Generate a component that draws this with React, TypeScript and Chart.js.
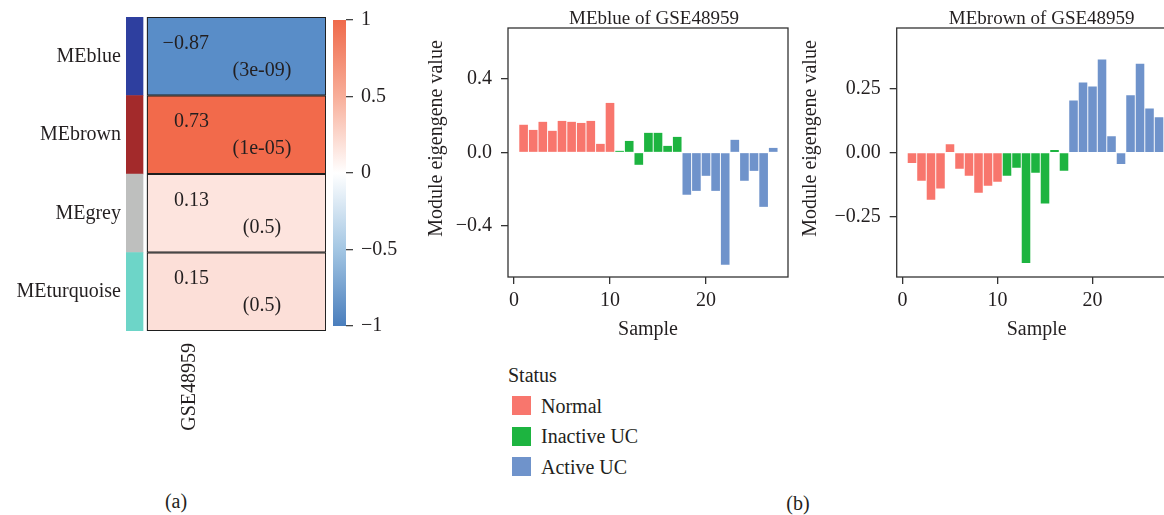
import React, { useEffect, useRef } from 'react';
import { Chart, registerables } from 'chart.js';

Chart.register(...registerables);

// ---------- data ----------
const modules = ['MEblue', 'MEbrown', 'MEgrey', 'MEturquoise'];
const moduleColors = ['#2E3F9F', '#A32A2B', '#BEBFBE', '#6DD5C8'];
const correlations = [-0.87, 0.73, 0.13, 0.15];
const correlationLabels = ['\u22120.87', '0.73', '0.13', '0.15'];
const pValueLabels = ['(3e-09)', '(1e-05)', '(0.5)', '(0.5)'];
const studyLabel = 'GSE48959';

const colorbarTicks = [-1, -0.5, 0, 0.5, 1];
const colorbarTickLabels = ['\u22121', '\u22120.5', '0', '0.5', '1'];

const samples = [1, 2, 3, 4, 5, 6, 7, 8, 9, 10, 11, 12, 13, 14, 15, 16, 17, 18, 19, 20, 21, 22, 23, 24, 25, 26, 27];
const sampleStatus = [
  'Normal', 'Normal', 'Normal', 'Normal', 'Normal', 'Normal', 'Normal', 'Normal', 'Normal', 'Normal',
  'Inactive UC', 'Inactive UC', 'Inactive UC', 'Inactive UC', 'Inactive UC', 'Inactive UC', 'Inactive UC',
  'Active UC', 'Active UC', 'Active UC', 'Active UC', 'Active UC', 'Active UC', 'Active UC', 'Active UC', 'Active UC', 'Active UC',
];
const statusNames = ['Normal', 'Inactive UC', 'Active UC'];
const statusColors = ['#F8766D', '#1DB440', '#6F93CB'];

const meBlue = [0.151, 0.123, 0.167, 0.118, 0.172, 0.167, 0.161, 0.172, 0.047, 0.270,
  0.009, 0.063, -0.067, 0.107, 0.107, 0.036, 0.085,
  -0.230, -0.209, -0.127, -0.209, -0.611, 0.069, -0.154, -0.100, -0.296, 0.025];
const meBrown = [-0.040, -0.109, -0.183, -0.140, 0.033, -0.063, -0.090, -0.156, -0.129, -0.113,
  -0.090, -0.059, -0.430, -0.078, -0.198, 0.010, -0.071,
  0.203, 0.273, 0.257, 0.362, 0.064, -0.044, 0.223, 0.346, 0.172, 0.138];

const sampleTicks = [0, 10, 20];
const sampleTickLabels = ['0', '10', '20'];
const blueTicks = [-0.4, 0, 0.4];
const blueTickLabels = ['\u22120.4', '0.0', '0.4'];
const brownTicks = [-0.25, 0, 0.25];
const brownTickLabels = ['\u22120.25', '0.00', '0.25'];

// ---------- style ----------
const FONT = "'Liberation Serif', 'Times New Roman', serif";
const INK = '#231F20';
const AXIS = '#333333';

function hexToRgb(h: string) {
  const n = parseInt(h.slice(1), 16);
  return [(n >> 16) & 255, (n >> 8) & 255, n & 255];
}
const heatStops: [number, string][] = [[-1, '#407CC0'], [0, '#FFFFFF'], [0.7, '#F26B4B'], [1, '#EF6548']];
function heatColor(v: number) {
  for (let i = 0; i < heatStops.length - 1; i++) {
    const [a, ca] = heatStops[i];
    const [b, cb] = heatStops[i + 1];
    if (v >= a && v <= b) {
      const t = (v - a) / (b - a);
      const A = hexToRgb(ca), B = hexToRgb(cb);
      const c = A.map((x, k) => Math.round(x + (B[k] - x) * t));
      return `rgb(${c[0]},${c[1]},${c[2]})`;
    }
  }
  return '#ffffff';
}

const SIDE_START = -0.117;
const SIDE_END = -0.022;

function heatConfig(): any {
  const cellText = {
    id: 'cellText',
    afterDatasetsDraw(chart: any) {
      const { ctx, scales } = chart;
      const x = scales.x, y = scales.y;
      ctx.save();
      ctx.fillStyle = INK;
      ctx.font = `20px ${FONT}`;
      ctx.textBaseline = 'middle';
      correlations.forEach((_, i) => {
        const yc = y.getPixelForValue(i);
        ctx.textAlign = 'right';
        ctx.fillText(correlationLabels[i], x.getPixelForValue(0.346), yc - 13);
        ctx.textAlign = 'center';
        ctx.fillText(pValueLabels[i], x.getPixelForValue(0.642), yc + 14);
      });
      ctx.translate(x.getPixelForValue(0.24), chart.chartArea.bottom + 12);
      ctx.rotate(-Math.PI / 2);
      ctx.textAlign = 'right';
      ctx.fillText(studyLabel, 0, 0);
      ctx.restore();
    },
  };
  return {
    type: 'bar',
    data: {
      labels: modules,
      datasets: [
        {
          data: modules.map(() => [SIDE_START, SIDE_END]),
          backgroundColor: moduleColors,
          borderWidth: 0,
          grouped: false,
          barPercentage: 1,
          categoryPercentage: 1,
        },
        {
          data: modules.map(() => [0, 1]),
          backgroundColor: correlations.map(heatColor),
          borderColor: '#1E1E1E',
          borderWidth: 1.3,
          borderSkipped: false,
          grouped: false,
          barPercentage: 1,
          categoryPercentage: 1,
        },
      ],
    },
    options: {
      indexAxis: 'y',
      responsive: false,
      animation: false,
      layout: { padding: { top: 15, right: 4, left: 0, bottom: 109 } },
      plugins: { legend: { display: false }, tooltip: { enabled: false }, title: { display: false } },
      scales: {
        x: { type: 'linear', min: SIDE_START, max: 1, display: false },
        y: {
          type: 'category',
          grid: { display: false, drawTicks: false },
          border: { display: false },
          ticks: { color: INK, font: { family: FONT, size: 20 }, padding: 5 },
          afterFit: (s: any) => { s.width = 126; },
        },
      },
    },
    plugins: [cellText],
  };
}

function colorbarConfig(): any {
  return {
    type: 'bar',
    data: {
      labels: [''],
      datasets: [
        {
          data: [[-1, 1]],
          backgroundColor: (c: any) => {
            const a = c.chart.chartArea;
            if (!a) return '#ffffff';
            const g = c.chart.ctx.createLinearGradient(0, a.bottom, 0, a.top);
            g.addColorStop(0, '#4A7EBD');
            g.addColorStop(0.25, '#A3C6E3');
            g.addColorStop(0.5, '#FFFFFF');
            g.addColorStop(0.75, '#F8AE99');
            g.addColorStop(1, '#EF6A4B');
            return g;
          },
          borderWidth: 0,
          barPercentage: 1,
          categoryPercentage: 1,
        },
      ],
    },
    options: {
      responsive: false,
      animation: false,
      layout: { padding: { left: 3, top: 15, bottom: 15, right: 0 } },
      plugins: { legend: { display: false }, tooltip: { enabled: false } },
      scales: {
        x: { display: false },
        y: {
          position: 'right',
          min: -1,
          max: 1,
          afterBuildTicks: (s: any) => { s.ticks = colorbarTicks.map((v) => ({ value: v })); },
          grid: { drawOnChartArea: false, tickLength: 7, color: '#444', lineWidth: 1.3 },
          border: { display: false },
          ticks: {
            color: INK,
            font: { family: FONT, size: 20 },
            padding: 8,
            callback: (v: number) => colorbarTickLabels[colorbarTicks.indexOf(v)] ?? '',
          },
          afterFit: (s: any) => { s.width = 74; },
        },
      },
    },
  };
}

function barConfig(opts: {
  values: number[];
  yMin: number; yMax: number;
  yTicks: number[]; yTickLabels: string[];
  xMin: number; xMax: number;
  yAxisWidth: number; padRight: number;
  title: string; titleDx: number; yTitleBaselineDx: number;
}): any {
  const texts = {
    id: 'panelTexts',
    afterDatasetsDraw(chart: any) {
      const { ctx, chartArea: a } = chart;
      ctx.save();
      ctx.strokeStyle = AXIS;
      ctx.lineWidth = 1.3;
      ctx.strokeRect(a.left, a.top, a.right - a.left, a.bottom - a.top);
      ctx.fillStyle = INK;
      ctx.textAlign = 'center';
      ctx.textBaseline = 'alphabetic';
      ctx.font = `19px ${FONT}`;
      ctx.fillText(opts.title, (a.left + a.right) / 2 + opts.titleDx, 24);
      ctx.font = `20px ${FONT}`;
      ctx.translate(a.left + opts.yTitleBaselineDx, 138.5);
      ctx.rotate(-Math.PI / 2);
      ctx.fillText('Module eigengene value', 0, 0);
      ctx.restore();
    },
  };
  return {
    type: 'bar',
    data: {
      datasets: [
        {
          data: samples.map((s, i) => ({ x: s, y: opts.values[i] })),
          backgroundColor: sampleStatus.map((s) => statusColors[statusNames.indexOf(s)]),
          borderWidth: 0,
          barPercentage: 0.9,
          categoryPercentage: 1,
        },
      ],
    },
    options: {
      responsive: false,
      animation: false,
      layout: { padding: { top: 28, right: opts.padRight, left: 0, bottom: 0 } },
      plugins: { legend: { display: false }, tooltip: { enabled: false }, title: { display: false } },
      scales: {
        x: {
          type: 'linear',
          min: opts.xMin,
          max: opts.xMax,
          offset: false,
          afterBuildTicks: (s: any) => { s.ticks = sampleTicks.map((v) => ({ value: v })); },
          grid: { offset: false, drawOnChartArea: false, drawTicks: true, tickLength: 7, color: AXIS, lineWidth: 1.3 },
          border: { display: false },
          ticks: {
            color: INK,
            font: { family: FONT, size: 20 },
            padding: 5,
            maxRotation: 0,
            autoSkip: false,
            callback: (v: number) => sampleTickLabels[sampleTicks.indexOf(v)] ?? '',
          },
          title: { display: true, text: 'Sample', color: INK, font: { family: FONT, size: 20 }, padding: { top: 0, bottom: 3 } },
          afterFit: (s: any) => { s.height = 68; },
        },
        y: {
          type: 'linear',
          min: opts.yMin,
          max: opts.yMax,
          afterBuildTicks: (s: any) => { s.ticks = opts.yTicks.map((v) => ({ value: v })); },
          grid: { drawOnChartArea: false, tickLength: 7, color: AXIS, lineWidth: 1.3 },
          border: { display: false },
          ticks: {
            color: INK,
            font: { family: FONT, size: 20 },
            padding: 9,
            callback: (v: number) => opts.yTickLabels[opts.yTicks.indexOf(v)] ?? '',
          },
          afterFit: (s: any) => { s.width = opts.yAxisWidth; },
        },
      },
    },
    plugins: [texts],
  };
}

const textStyle: React.CSSProperties = {
  position: 'absolute',
  font: `20px ${FONT}`,
  color: INK,
  lineHeight: '24px',
  whiteSpace: 'nowrap',
};

export default function App() {
  const heatRef = useRef<HTMLCanvasElement>(null);
  const barRef = useRef<HTMLCanvasElement>(null);
  const blueRef = useRef<HTMLCanvasElement>(null);
  const brownRef = useRef<HTMLCanvasElement>(null);

  useEffect(() => {
    const charts = [
      new Chart(heatRef.current!, heatConfig()),
      new Chart(barRef.current!, colorbarConfig()),
      new Chart(blueRef.current!, barConfig({
        values: meBlue, yMin: -0.678, yMax: 0.678, yTicks: blueTicks, yTickLabels: blueTickLabels,
        xMin: -0.625, xMax: 28.54, yAxisWidth: 88, padRight: 7,
        title: 'MEblue of GSE48959', titleDx: 6, yTitleBaselineDx: -66.5,
      })),
      new Chart(brownRef.current!, barConfig({
        values: meBrown, yMin: -0.484, yMax: 0.485, yTicks: brownTicks, yTickLabels: brownTickLabels,
        xMin: -0.61, xMax: 28.86, yAxisWidth: 106.7, padRight: 13.3,
        title: 'MEbrown of GSE48959', titleDx: 5, yTitleBaselineDx: -80.7,
      })),
    ];
    return () => charts.forEach((c) => c.destroy());
  }, []);

  const legendCenters = [405.5, 436, 466.5];

  return (
    <div style={{ position: 'fixed', left: 0, top: 0, width: 1164, height: 515, overflow: 'hidden', background: '#ffffff' }}>
      <canvas ref={heatRef} width={330} height={440} style={{ position: 'absolute', left: 0, top: 0 }} />
      <canvas ref={barRef} width={90} height={346} style={{ position: 'absolute', left: 330, top: 0 }} />
      <canvas ref={blueRef} width={375} height={345} style={{ position: 'absolute', left: 420, top: 0 }} />
      <canvas ref={brownRef} width={400} height={345} style={{ position: 'absolute', left: 790, top: 0 }} />

      <div style={{ ...textStyle, left: 508, top: 363 }}>Status</div>
      {statusNames.map((name, i) => (
        <React.Fragment key={name}>
          <div style={{ position: 'absolute', left: 512, top: legendCenters[i] - 9.5, width: 19, height: 19, background: statusColors[i] }} />
          <div style={{ ...textStyle, left: 541, top: legendCenters[i] - 12 }}>{name}</div>
        </React.Fragment>
      ))}

      <div style={{ ...textStyle, left: 146, width: 60, textAlign: 'center', top: 489 }}>(a)</div>
      <div style={{ ...textStyle, left: 768, width: 60, textAlign: 'center', top: 491 }}>(b)</div>
    </div>
  );
}
